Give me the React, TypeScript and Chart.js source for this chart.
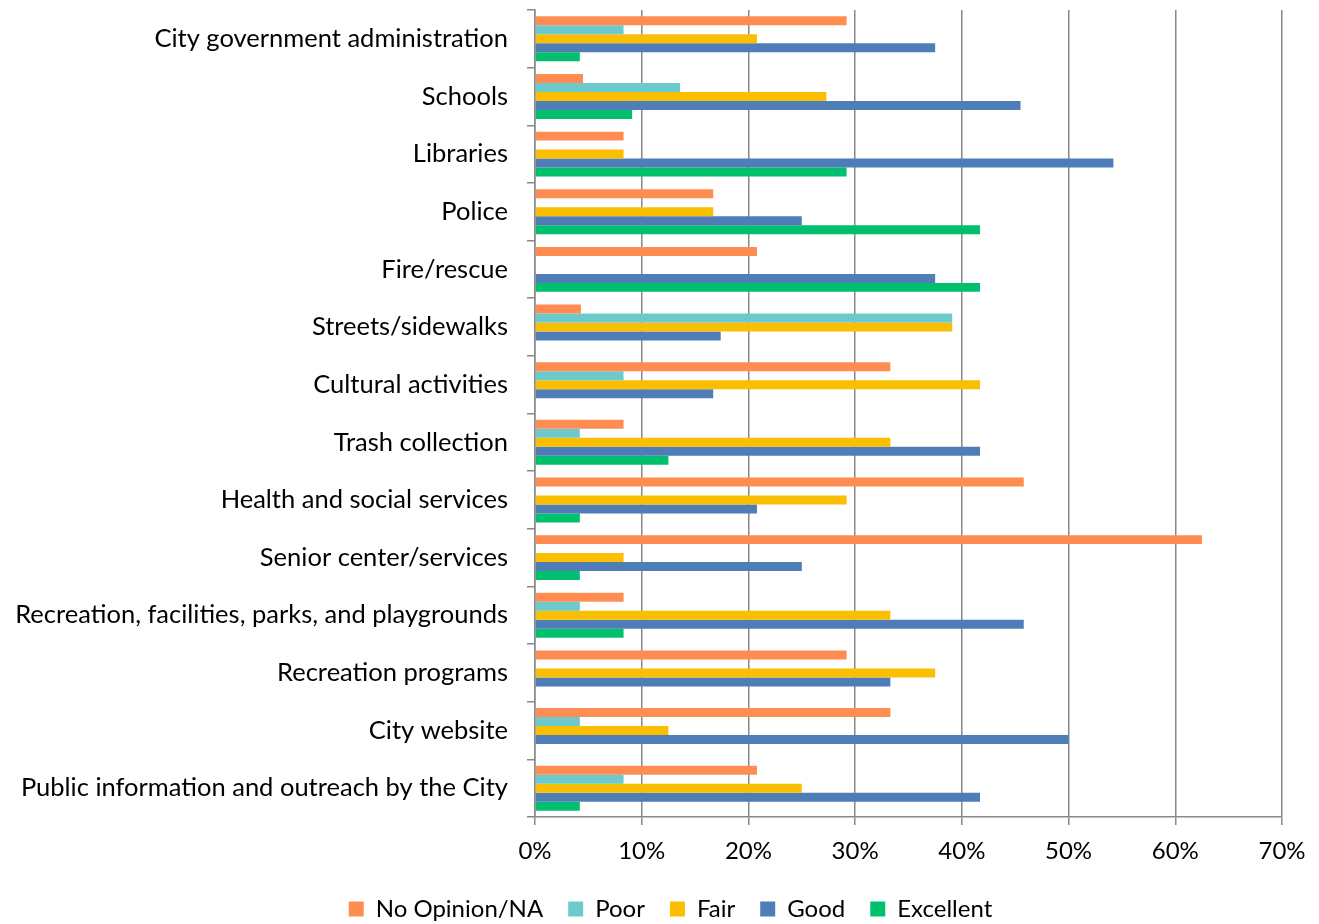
import React, { useEffect, useRef } from "react";
import { Chart, registerables } from "chart.js";

Chart.register(...registerables);

const categories = [
  "City government administration",
  "Schools",
  "Libraries",
  "Police",
  "Fire/rescue",
  "Streets/sidewalks",
  "Cultural activities",
  "Trash collection",
  "Health and social services",
  "Senior center/services",
  "Recreation, facilities, parks, and playgrounds",
  "Recreation programs",
  "City website",
  "Public information and outreach by the City",
];

const noOpinion = [29.2, 4.5, 8.3, 16.7, 20.8, 4.3, 33.3, 8.3, 45.8, 62.5, 8.3, 29.2, 33.3, 20.8];
const poor = [8.3, 13.6, 0, 0, 0, 39.1, 8.3, 4.2, 0, 0, 4.2, 0, 4.2, 8.3];
const fair = [20.8, 27.3, 8.3, 16.7, 0, 39.1, 41.7, 33.3, 29.2, 8.3, 33.3, 37.5, 12.5, 25.0];
const good = [37.5, 45.5, 54.2, 25.0, 37.5, 17.4, 16.7, 41.7, 20.8, 25.0, 45.8, 33.3, 50.0, 41.7];
const excellent = [4.2, 9.1, 29.2, 41.7, 41.7, 0, 0, 12.5, 4.2, 4.2, 8.3, 0, 0, 4.2];

const seriesNames = ["No Opinion/NA", "Poor", "Fair", "Good", "Excellent"];
const seriesColors = ["#FF8C50", "#6CCACD", "#F9BF00", "#4F7DB7", "#00C06E"];

const FONT = "Lato, 'Open Sans', sans-serif";

export default function App() {
  const ref = useRef<HTMLCanvasElement | null>(null);

  useEffect(() => {
    const values = [noOpinion, poor, fair, good, excellent];
    const chart = new Chart(ref.current!, {
      type: "bar",
      data: {
        labels: categories,
        datasets: values.map((v, i) => ({
          label: seriesNames[i],
          data: v,
          backgroundColor: seriesColors[i],
          borderWidth: 0,
          barPercentage: 1,
          categoryPercentage: 0.78,
        })),
      },
      options: {
        indexAxis: "y",
        animation: false,
        responsive: false,
        maintainAspectRatio: false,
        layout: { padding: { top: 10, left: 0, right: -22, bottom: -7 } },
        plugins: {
          tooltip: { enabled: false },
          legend: {
            position: "bottom",
            labels: {
              boxWidth: 15,
              boxHeight: 15,
              padding: 25,
              color: "#000",
              font: { family: FONT, size: 24 },
            },
          },
        },
        scales: {
          x: {
            min: 0,
            max: 70,
            ticks: {
              stepSize: 10,
              callback: (v: any) => v + "%",
              color: "#000",
              font: { family: FONT, size: 24 },
              padding: 12,
            },
            grid: {
              color: "#888888",
              lineWidth: 1.5,
              drawTicks: true,
              tickLength: 8,
            },
            border: { display: true, color: "#888888", width: 1.5 },
            afterFit: (s: any) => {
              s.height = 55;
              s.paddingRight = 37;
            },
          },
          y: {
            ticks: {
              color: "#000",
              font: { family: FONT, size: 25.5 },
              padding: 19,
              autoSkip: false,
            },
            grid: {
              color: "#888888",
              lineWidth: 1.5,
              drawOnChartArea: false,
              drawTicks: true,
              tickLength: 8,
            },
            border: { display: true, color: "#888888", width: 1.5 },
            afterFit: (s: any) => {
              s.width = 535;
              s.paddingTop = 0;
              s.paddingBottom = 0;
            },
          },
        },
      },
    });
    return () => chart.destroy();
  }, []);

  return (
    <div style={{ position: "absolute", left: 0, top: 0, width: 1319, height: 924, background: "#fff" }}>
      <canvas ref={ref} width={1319} height={924} style={{ width: 1319, height: 924 }} />
    </div>
  );
}
